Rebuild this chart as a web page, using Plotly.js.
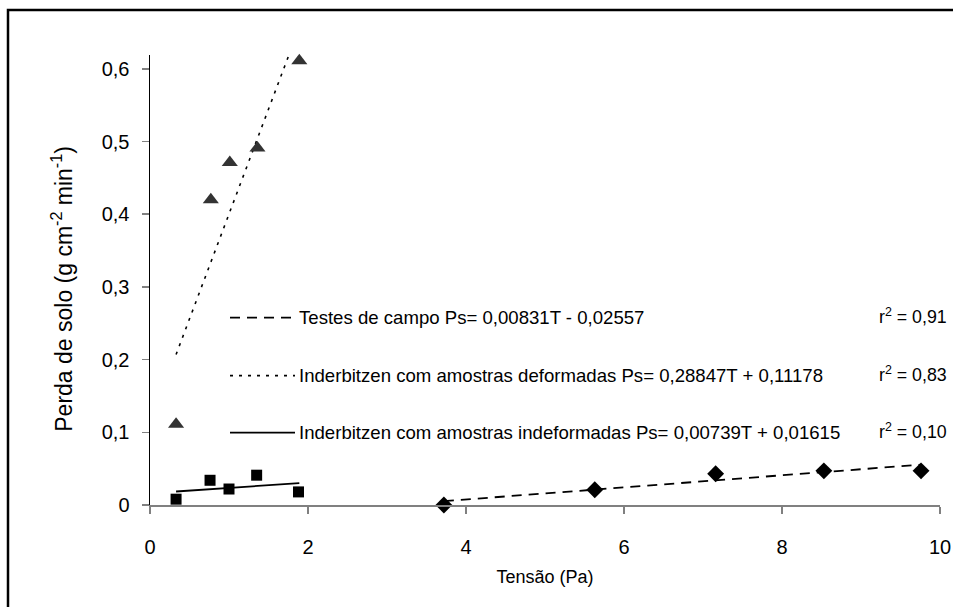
<!DOCTYPE html>
<html>
<head>
<meta charset="utf-8">
<script src="https://cdn.plot.ly/plotly-3.0.1.min.js"></script>
<style>html,body{margin:0;padding:0;background:#fff;} #chart{width:953px;height:607px;}</style>
</head>
<body>
<div id="chart"></div>
<script>
// ---- data ----
const campoX = [3.72, 5.63, 7.16, 8.53, 9.76];
const campoY = [0.000, 0.021, 0.043, 0.047, 0.047];
const campoTrendX = [3.72, 9.76];
const campoTrendY = [0.0053, 0.0555];

const deformX = [0.33, 0.77, 1.01, 1.36, 1.89];
const deformY = [0.111, 0.420, 0.471, 0.491, 0.611];
const deformTrendX = [0.33, 1.89];
const deformTrendY = [0.207, 0.657];

const indefX = [0.33, 0.76, 1.00, 1.35, 1.88];
const indefY = [0.008, 0.034, 0.022, 0.041, 0.018];
const indefTrendX = [0.33, 1.89];
const indefTrendY = [0.0186, 0.0301];

const legendTexts = [
  "Testes de campo Ps= 0,00831T - 0,02557",
  "Inderbitzen com amostras deformadas Ps= 0,28847T + 0,11178",
  "Inderbitzen com amostras indeformadas Ps= 0,00739T + 0,01615"
];
const r2Texts = ["r<sup>2</sup> = 0,91", "r<sup>2</sup> = 0,83", "r<sup>2</sup> = 0,10"];
const legendDash = ["10px,7px", "3px,6px", "solid"];
const xTickVals = [0, 2, 4, 6, 8, 10];
const yTickVals = [0, 0.1, 0.2, 0.3, 0.4, 0.5, 0.6];
const yTitle = "Perda de solo (g cm<sup>-2</sup> min<sup>-1</sup>)";

// ---- layout geometry (pixels) ----
const W = 953, H = 607;
const L = 150, R = 940, T = 55, B = 505.5;
const px = x => (x - L) / (R - L);
const py = y => (B - y) / (B - T);

const font = "Liberation Sans, Arial, sans-serif";

const traces = [
  {x: campoTrendX, y: campoTrendY, mode: 'lines', line: {color: '#000', width: 1.8, dash: legendDash[0]}, hoverinfo: 'skip'},
  {x: deformTrendX, y: deformTrendY, mode: 'lines', line: {color: '#000', width: 1.6, dash: legendDash[1]}, hoverinfo: 'skip'},
  {x: indefTrendX, y: indefTrendY, mode: 'lines', line: {color: '#000', width: 1.8}, hoverinfo: 'skip'},
  {x: campoX, y: campoY, mode: 'markers', marker: {symbol: 'diamond', size: 13, color: '#000'}, cliponaxis: false},
  {x: deformX, y: deformY, mode: 'markers', marker: {symbol: 'triangle-up', size: 14, color: '#333'}, cliponaxis: false},
  {x: indefX, y: indefY, mode: 'markers', marker: {symbol: 'square', size: 11, color: '#000'}, cliponaxis: false}
];

const legY = [318, 376, 433];
const shapes = [
  {type: 'rect', xref: 'paper', yref: 'paper', x0: px(8), x1: px(1000), y0: py(10), y1: py(700),
   line: {color: '#000', width: 2.5}, fillcolor: 'rgba(0,0,0,0)', layer: 'below'}
];
const annotations = [];
legY.forEach((yy, i) => {
  shapes.push({type: 'line', xref: 'paper', yref: 'paper', x0: px(230), x1: px(295), y0: py(yy), y1: py(yy),
    line: {color: '#000', width: i === 1 ? 1.6 : 1.8, dash: legendDash[i]}});
  annotations.push({xref: 'paper', yref: 'paper', x: px(297), y: py(yy), xanchor: 'left', yanchor: 'middle',
    text: legendTexts[i], showarrow: false, font: {family: font, size: 18.6, color: '#000'}});
  annotations.push({xref: 'paper', yref: 'paper', x: px(949), y: py(yy - 2), xanchor: 'right', yanchor: 'middle',
    text: r2Texts[i], showarrow: false, font: {family: font, size: 17.8, color: '#000'}});
});
annotations.push({xref: 'paper', yref: 'paper', x: px(62), y: py(289), xanchor: 'center', yanchor: 'middle',
  textangle: -90, text: yTitle, showarrow: false, font: {family: font, size: 23, color: '#000'}});

const layout = {
  width: W, height: H,
  margin: {l: L, r: W - R, t: T, b: H - B, pad: 0},
  paper_bgcolor: '#fff', plot_bgcolor: '#fff',
  showlegend: false,
  separators: ', ',
  font: {family: font, size: 17, color: '#000'},
  xaxis: {
    range: [0, 10], tickvals: xTickVals, ticks: 'outside', ticklen: 7, tickcolor: '#808080', tickwidth: 1.5,
    showline: true, linecolor: '#808080', linewidth: 1.5, showgrid: false, zeroline: false,
    ticklabelstandoff: 16,
    tickfont: {family: font, size: 20}, title: {text: 'Tensão (Pa)', font: {family: font, size: 18}, standoff: 14}
  },
  yaxis: {
    range: [0, 0.619], tickvals: yTickVals, ticks: 'outside', ticklen: 7, tickcolor: '#808080', tickwidth: 1.5,
    showline: true, linecolor: '#000', linewidth: 1.5, showgrid: false, zeroline: false,
    ticklabelstandoff: 8,
    tickfont: {family: font, size: 20}
  },
  shapes: shapes,
  annotations: annotations
};

Plotly.newPlot('chart', traces, layout, {staticPlot: true, displayModeBar: false});
</script>
</body>
</html>
